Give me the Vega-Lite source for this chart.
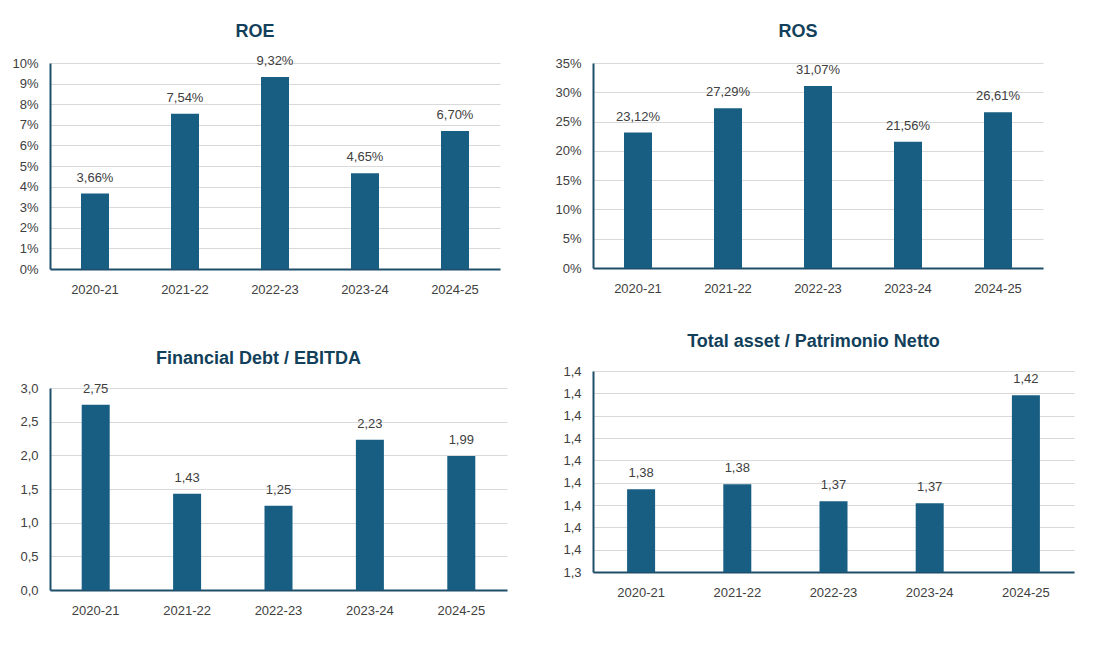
{
  "$schema": "https://vega.github.io/schema/vega-lite/v6.json",
  "background": "white",
  "padding": {"left": 10, "top": 23, "right": 10, "bottom": 5},
  "datasets": {
    "roe": [
      {"period": "2020-21", "value": 0.0366},
      {"period": "2021-22", "value": 0.0754},
      {"period": "2022-23", "value": 0.0932},
      {"period": "2023-24", "value": 0.0465},
      {"period": "2024-25", "value": 0.067}
    ],
    "ros": [
      {"period": "2020-21", "value": 0.2312},
      {"period": "2021-22", "value": 0.2729},
      {"period": "2022-23", "value": 0.3107},
      {"period": "2023-24", "value": 0.2156},
      {"period": "2024-25", "value": 0.2661}
    ],
    "debt": [
      {"period": "2020-21", "value": 2.75},
      {"period": "2021-22", "value": 1.43},
      {"period": "2022-23", "value": 1.25},
      {"period": "2023-24", "value": 2.23},
      {"period": "2024-25", "value": 1.99}
    ],
    "assets": [
      {"period": "2020-21", "value": 1.3771},
      {"period": "2021-22", "value": 1.3793},
      {"period": "2022-23", "value": 1.3717},
      {"period": "2023-24", "value": 1.3708},
      {"period": "2024-25", "value": 1.4191}
    ]
  },
  "hconcat": [
    {
      "vconcat": [
        {
          "title": "ROE",
          "width": 450,
          "height": 206,
          "data": {"name": "roe"},
          "encoding": {
            "x": {"field": "period", "type": "nominal", "sort": null, "scale": {"paddingInner": 0, "paddingOuter": 0}},
            "y": {"field": "value", "type": "quantitative", "scale": {"domain": [0, 0.1], "nice": false},
              "axis": {"format": ".0%", "values": [0, 0.01, 0.02, 0.03, 0.04, 0.05, 0.06, 0.07, 0.08, 0.09, 0.1]}}
          },
          "layer": [
            {"mark": {"type": "bar", "width": 28, "color": "#175e82"}},
            {"mark": {"type": "text", "baseline": "bottom", "dy": -9, "fontSize": 13, "color": "#404040", "font": "Liberation Sans"},
              "encoding": {"text": {"field": "value", "type": "quantitative", "format": ".2%"}}}
          ]
        },
        {
          "title": "Financial  Debt / EBITDA",
          "width": 457,
          "height": 202,
          "data": {"name": "debt"},
          "encoding": {
            "x": {"field": "period", "type": "nominal", "sort": null, "scale": {"paddingInner": 0, "paddingOuter": 0}},
            "y": {"field": "value", "type": "quantitative", "scale": {"domain": [0, 3], "nice": false},
              "axis": {"format": ".1f", "values": [0, 0.5, 1, 1.5, 2, 2.5, 3]}}
          },
          "layer": [
            {"mark": {"type": "bar", "width": 28, "color": "#175e82"}},
            {"mark": {"type": "text", "baseline": "bottom", "dy": -9, "fontSize": 13, "color": "#404040", "font": "Liberation Sans"},
              "encoding": {"text": {"field": "value", "type": "quantitative", "format": ".2f"}}}
          ]
        }
      ],
      "spacing": 54
    },
    {
      "vconcat": [
        {
          "title": {"text": "ROS", "dy": -2},
          "width": 450,
          "height": 205,
          "data": {"name": "ros"},
          "encoding": {
            "x": {"field": "period", "type": "nominal", "sort": null, "scale": {"paddingInner": 0, "paddingOuter": 0}},
            "y": {"field": "value", "type": "quantitative", "scale": {"domain": [0, 0.35], "nice": false},
              "axis": {"format": ".0%", "values": [0, 0.05, 0.1, 0.15, 0.2, 0.25, 0.3, 0.35]}}
          },
          "layer": [
            {"mark": {"type": "bar", "width": 28, "color": "#175e82"}},
            {"mark": {"type": "text", "baseline": "bottom", "dy": -9, "fontSize": 13, "color": "#404040", "font": "Liberation Sans"},
              "encoding": {"text": {"field": "value", "type": "quantitative", "format": ".2%"}}}
          ]
        },
        {
          "title": "Total asset /  Patrimonio Netto",
          "width": 481,
          "height": 201,
          "data": {"name": "assets"},
          "encoding": {
            "x": {"field": "period", "type": "nominal", "sort": null, "scale": {"paddingInner": 0, "paddingOuter": 0}},
            "y": {"field": "value", "type": "quantitative", "scale": {"domain": [1.34, 1.43], "nice": false, "zero": false},
              "axis": {"format": ".1f", "values": [1.34, 1.35, 1.36, 1.37, 1.38, 1.39, 1.4, 1.41, 1.42, 1.43]}}
          },
          "layer": [
            {"mark": {"type": "bar", "width": 28, "color": "#175e82", "clip": true}},
            {"mark": {"type": "text", "baseline": "bottom", "dy": -9, "fontSize": 13, "color": "#404040", "font": "Liberation Sans"},
              "encoding": {"text": {"field": "value", "type": "quantitative", "format": ".2f"}}}
          ]
        }
      ],
      "spacing": 38
    }
  ],
  "spacing": 46,
  "config": {
    "locale": {"number": {"decimal": ",", "thousands": ".", "grouping": [3], "currency": ["", " €"]}},
    "view": {"stroke": null},
    "title": {"font": "Liberation Sans", "fontSize": 18, "fontWeight": "bold", "color": "#123f5a", "offset": 14, "frame": "bounds"},
    "axis": {
      "title": null,
      "labelFont": "Liberation Sans",
      "labelFontSize": 13,
      "labelColor": "#404040",
      "ticks": false,
      "domainColor": "#1f4e6b",
      "domainWidth": 2,
      "gridColor": "#d9d9d9",
      "gridWidth": 1,
      "labelPadding": 12
    },
    "axisX": {"grid": false, "labelAngle": 0, "labelPadding": 14},
    "axisY": {"grid": true, "minExtent": 40, "maxExtent": 40}
  }
}
